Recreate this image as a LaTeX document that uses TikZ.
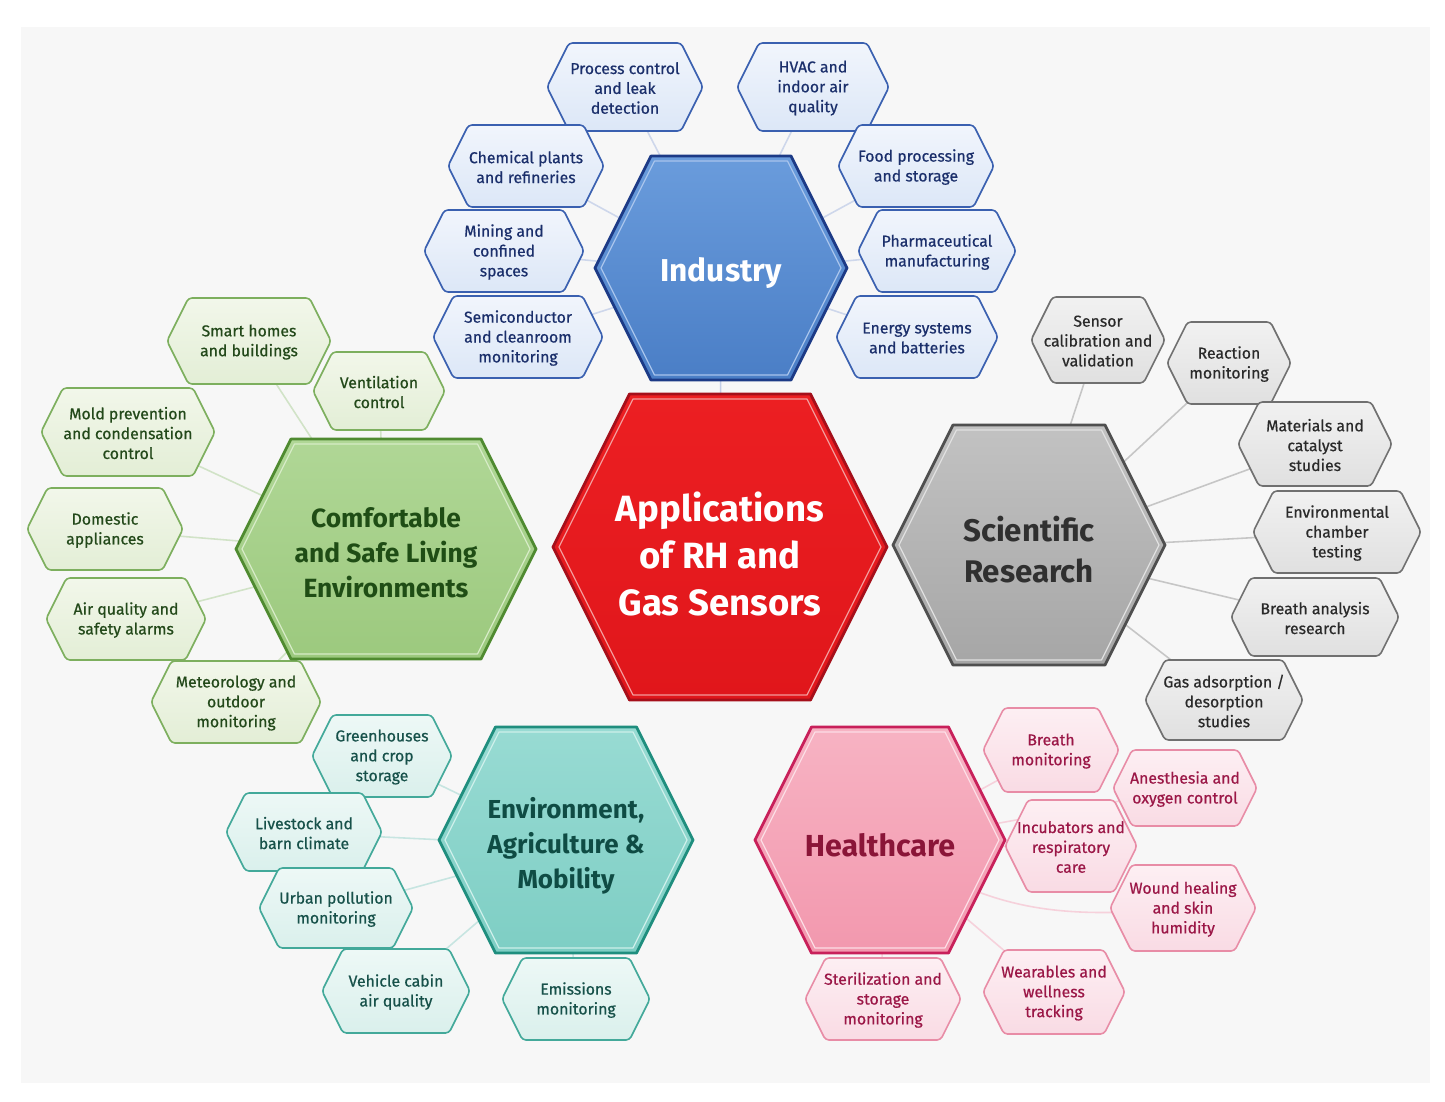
\documentclass[tikz,border=0pt]{standalone}
\usepackage{fontspec}
\setmainfont{Fira Sans}
\newfontfamily\subfont[FakeBold=0.6]{Fira Sans}

% 图层:背景、连线、主体
\pgfdeclarelayer{bg}
\pgfdeclarelayer{lines}
\pgfsetlayers{bg,lines,main}

% 颜色
\definecolor{bgfill}{HTML}{F7F7F7}
\definecolor{appline}{HTML}{A50F1A}\definecolor{appin}{HTML}{F39A9A}
\definecolor{apptop}{HTML}{EC1F22}\definecolor{appbot}{HTML}{E0161B}
\definecolor{indline}{HTML}{1C3A86}\definecolor{indin}{HTML}{A8C4EC}
\definecolor{indtop}{HTML}{6A9CDC}\definecolor{indbot}{HTML}{4A7EC6}
\definecolor{indsubline}{HTML}{3A60B0}\definecolor{indsubtxt}{HTML}{1B2F6B}
\definecolor{indsubtop}{HTML}{F1F5FC}\definecolor{indsubbot}{HTML}{DCE7F7}
\definecolor{livline}{HTML}{4F8A30}\definecolor{livin}{HTML}{D6EBC6}
\definecolor{livtop}{HTML}{B0D796}\definecolor{livbot}{HTML}{9CC97E}\definecolor{livtxt}{HTML}{1F4D15}
\definecolor{livsubline}{HTML}{7DAF5E}\definecolor{livsubtxt}{HTML}{23491A}
\definecolor{livsubtop}{HTML}{F2F7EA}\definecolor{livsubbot}{HTML}{E3EED6}
\definecolor{sciline}{HTML}{4F4F4F}\definecolor{sciin}{HTML}{E0E0E0}
\definecolor{scitop}{HTML}{C2C2C2}\definecolor{scibot}{HTML}{A6A6A6}\definecolor{scitxt}{HTML}{303030}
\definecolor{scisubline}{HTML}{707070}\definecolor{scisubtxt}{HTML}{2A2A2A}
\definecolor{scisubtop}{HTML}{F1F1F1}\definecolor{scisubbot}{HTML}{E0E0E0}
\definecolor{envline}{HTML}{1F8E7E}\definecolor{envin}{HTML}{CDEFEA}
\definecolor{envtop}{HTML}{98DBD3}\definecolor{envbot}{HTML}{7ECEC4}\definecolor{envtxt}{HTML}{0F4C44}
\definecolor{envsubline}{HTML}{43A99A}\definecolor{envsubtxt}{HTML}{17514A}
\definecolor{envsubtop}{HTML}{EDF8F6}\definecolor{envsubbot}{HTML}{DAF0EC}
\definecolor{hltline}{HTML}{C8205A}\definecolor{hltin}{HTML}{FCDDE5}
\definecolor{hlttop}{HTML}{F7B3C3}\definecolor{hltbot}{HTML}{F298AE}\definecolor{hlttxt}{HTML}{8A1538}
\definecolor{hltsubline}{HTML}{E88CA6}\definecolor{hltsubtxt}{HTML}{9B1747}
\definecolor{hltsubtop}{HTML}{FDEFF3}\definecolor{hltsubbot}{HTML}{F9DBE4}

\tikzset{
  % 大六边形
  bighex/.style={line width=1.6pt, line join=round},
  smallhex/.style={line width=0.9pt, line join=round, rounded corners=2pt},
  subtext/.style={align=center, font=\subfont\fontsize{9}{11.3}\selectfont, yshift=-0.6pt},
  maintext/.style={align=center},
  apphex/.style={bighex, draw=appline, top color=apptop, bottom color=appbot},
  indhex/.style={bighex, draw=indline, top color=indtop, bottom color=indbot},
  livhex/.style={bighex, draw=livline, top color=livtop, bottom color=livbot},
  scihex/.style={bighex, draw=sciline, top color=scitop, bottom color=scibot},
  envhex/.style={bighex, draw=envline, top color=envtop, bottom color=envbot},
  hlthex/.style={bighex, draw=hltline, top color=hlttop, bottom color=hltbot},
  innerline/.style={line width=0.7pt, line join=round},
  % 小六边形
  indsub/.style={smallhex, draw=indsubline, top color=indsubtop, bottom color=indsubbot},
  livsub/.style={smallhex, draw=livsubline, top color=livsubtop, bottom color=livsubbot},
  scisub/.style={smallhex, draw=scisubline, top color=scisubtop, bottom color=scisubbot},
  envsub/.style={smallhex, draw=envsubline, top color=envsubtop, bottom color=envsubbot},
  hltsub/.style={smallhex, draw=hltsubline, top color=hltsubtop, bottom color=hltsubbot},
  % 连线
  link/.style={line width=0.9pt},
}

% 六边形路径:#1 样式, #2 x, #3 y, #4 半宽, #5 半高
\newcommand{\hexpath}[5][]{%
  \pgfmathsetmacro{\hexin}{\hexk*#5}
  \path[#1] (#2-#4,#3) -- (#2-#4+\hexin,#3-#5) -- (#2+#4-\hexin,#3-#5) -- (#2+#4,#3)
    -- (#2+#4-\hexin,#3+#5) -- (#2-#4+\hexin,#3+#5) -- cycle;
}
% 六边形节点:#1 路径样式, #2 文字样式, #3 名称, #4 x, #5 y, #6 半宽, #7 半高, #8 文字
\newcommand{\hexnode}[8]{%
  \hexpath[#1]{#4}{#5}{#6}{#7}
  \node[#2] (#3) at (#4,#5) {#8};
}

\begin{document}
\begin{tikzpicture}[x=0.02cm, y=-0.02cm]
	
	% 背景
	\useasboundingbox (0,0) rectangle (1445,1102);
	\begin{pgfonlayer}{bg}
		\fill[bgfill] (21,27) rectangle (1430,1083);
	\end{pgfonlayer}
	
	\def\hexk{0.5} % 斜边内缩比例
	
	% 工业(蓝)
	\hexnode{indsub}{subtext, text=indsubtxt}{ind1}{625}{87}{78}{44}{Process control\\and leak\\detection}
	\hexnode{indsub}{subtext, text=indsubtxt}{ind2}{813}{87}{76}{44}{HVAC and\\indoor air\\quality}
	\hexnode{indsub}{subtext, text=indsubtxt}{ind3}{526}{166}{78}{41}{Chemical plants\\and refineries}
	\hexnode{indsub}{subtext, text=indsubtxt}{ind4}{916}{166}{78}{41}{Food processing\\and storage}
	\hexnode{indsub}{subtext, text=indsubtxt}{ind5}{504}{251}{80}{41}{Mining and\\confined\\spaces}
	\hexnode{indsub}{subtext, text=indsubtxt}{ind6}{937}{251}{79}{41}{Pharmaceutical\\manufacturing}
	\hexnode{indsub}{subtext, text=indsubtxt}{ind7}{518}{337}{85}{41}{Semiconductor\\and cleanroom\\monitoring}
	\hexnode{indsub}{subtext, text=indsubtxt}{ind8}{917}{337}{81}{41}{Energy systems\\and batteries}
	
	% 居住环境(绿)
	\hexnode{livsub}{subtext, text=livsubtxt}{liv1}{249}{341}{82}{43}{Smart homes\\and buildings}
	\hexnode{livsub}{subtext, text=livsubtxt}{liv2}{379}{391}{66}{39}{Ventilation\\control}
	\hexnode{livsub}{subtext, text=livsubtxt}{liv3}{128}{432}{87}{44}{Mold prevention\\and condensation\\control}
	\hexnode{livsub}{subtext, text=livsubtxt}{liv4}{105}{529}{78}{41}{Domestic\\appliances}
	\hexnode{livsub}{subtext, text=livsubtxt}{liv5}{126}{619}{80}{41}{Air quality and\\safety alarms}
	\hexnode{livsub}{subtext, text=livsubtxt}{liv6}{236}{702}{85}{41}{Meteorology and\\outdoor\\monitoring}
	
	% 科学研究(灰)
	\hexnode{scisub}{subtext, text=scisubtxt}{sci1}{1098}{340}{67}{43}{Sensor\\calibration and\\validation}
	\hexnode{scisub}{subtext, text=scisubtxt}{sci2}{1229}{363}{62}{41}{Reaction\\monitoring}
	\hexnode{scisub}{subtext, text=scisubtxt}{sci3}{1315}{444}{77}{42}{Materials and\\catalyst\\studies}
	\hexnode{scisub}{subtext, text=scisubtxt}{sci4}{1337}{532}{84}{41}{Environmental\\chamber\\testing}
	\hexnode{scisub}{subtext, text=scisubtxt}{sci5}{1315}{617}{84}{39}{Breath analysis\\research}
	\hexnode{scisub}{subtext, text=scisubtxt}{sci6}{1224}{700}{79}{40}{Gas adsorption /\\desorption\\studies}
	
	% 环境、农业与交通(青)
	\hexnode{envsub}{subtext, text=envsubtxt}{env1}{382}{756}{70}{41}{Greenhouses\\and crop\\storage}
	\hexnode{envsub}{subtext, text=envsubtxt}{env2}{304}{832}{78}{39}{Livestock and\\barn climate}
	\hexnode{envsub}{subtext, text=envsubtxt}{env3}{336}{908}{77}{40}{Urban pollution\\monitoring}
	\hexnode{envsub}{subtext, text=envsubtxt}{env4}{396}{991}{74}{42}{Vehicle cabin\\air quality}
	\hexnode{envsub}{subtext, text=envsubtxt}{env5}{576}{999}{74}{41}{Emissions\\monitoring}
	
	% 医疗(粉)
	\hexnode{hltsub}{subtext, text=hltsubtxt}{hlt1}{1051}{750}{68}{42}{Breath\\monitoring}
	\hexnode{hltsub}{subtext, text=hltsubtxt}{hlt2}{1185}{788}{72}{38}{Anesthesia and\\oxygen control}
	\hexnode{hltsub}{subtext, text=hltsubtxt}{hlt3}{1071}{846}{66}{46}{Incubators and\\respiratory\\care}
	\hexnode{hltsub}{subtext, text=hltsubtxt}{hlt4}{1183}{908}{73}{43}{Wound healing\\and skin\\humidity}
	\hexnode{hltsub}{subtext, text=hltsubtxt}{hlt5}{883}{999}{78}{41}{Sterilization and\\storage\\monitoring}
	\hexnode{hltsub}{subtext, text=hltsubtxt}{hlt6}{1054}{992}{71}{42}{Wearables and\\wellness\\tracking}
	
	% 六个大六边形(外框 + 内侧细线)
	\hexnode{apphex}{maintext, text=white, yshift=-4pt, font=\bfseries\fontsize{20.8}{26.5}\selectfont}{app}{720}{547}{167}{153}{Applications\\of RH and\\Gas Sensors}
	\hexpath[innerline, draw=appin]{720}{547}{161}{148}
	\hexnode{indhex}{maintext, text=white, yshift=-3pt, font=\bfseries\fontsize{18}{20}\selectfont}{ind}{721}{268}{126}{112}{Industry}
	\hexpath[innerline, draw=indin]{721}{268}{120}{107}
	\hexnode{livhex}{maintext, text=livtxt, yshift=-2.3pt, font=\bfseries\fontsize{15}{20}\selectfont}{liv}{386}{549}{150}{110}{Comfortable\\and Safe Living\\Environments}
	\hexpath[innerline, draw=livin]{386}{549}{144}{105}
	\hexnode{scihex}{maintext, text=scitxt, yshift=-2.8pt, font=\bfseries\fontsize{17.8}{23.3}\selectfont}{sci}{1029}{545}{136}{120}{Scientific\\Research}
	\hexpath[innerline, draw=sciin]{1029}{545}{130}{115}
	\hexnode{envhex}{maintext, text=envtxt, yshift=-3.4pt, font=\bfseries\fontsize{14.8}{20}\selectfont}{env}{566}{840}{127}{113}{Environment,\\Agriculture \&\\Mobility}
	\hexpath[innerline, draw=envin]{566}{840}{121}{108}
	\hexnode{hlthex}{maintext, text=hlttxt, yshift=-2.8pt, font=\bfseries\fontsize{17.3}{20}\selectfont}{hlt}{880}{840}{125}{113}{Healthcare}
	\hexpath[innerline, draw=hltin]{880}{840}{119}{108}
	
	% 连线(在六边形下面)
	\begin{pgfonlayer}{lines}
		\draw[link, color=indsubline!30] (app) -- (ind);
		\foreach \i in {1,...,8} \draw[link, color=indsubline!25] (ind) -- (ind\i);
		\foreach \i in {1,...,6} \draw[link, color=livsubline!35] (liv) -- (liv\i);
		\foreach \i in {1,...,6} \draw[link, color=scisubline!40] (sci) -- (sci\i);
		\foreach \i in {1,...,5} \draw[link, color=envsubline!30] (env) -- (env\i);
		\foreach \i in {1,2,3,5,6} \draw[link, color=hltsubline!40] (hlt) -- (hlt\i);
		\draw[link, color=hltsubline!40] (hlt) to[bend right=15] (hlt4); % 绕过 Incubators 下方
	\end{pgfonlayer}
	
\end{tikzpicture}
\end{document}
